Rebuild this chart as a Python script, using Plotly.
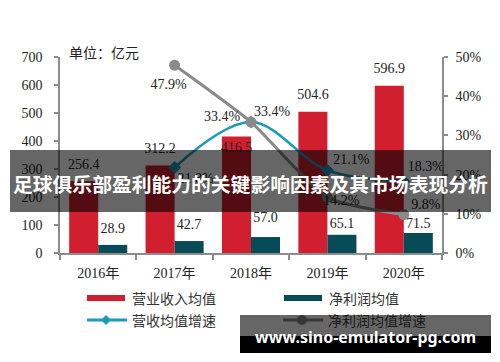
import plotly.graph_objects as go

# ---------------- data ----------------
years = ["2016年", "2017年", "2018年", "2019年", "2020年"]
revenue = [256.4, 312.2, 416.5, 504.6, 596.9]          # 营业收入均值 (亿元)
profit = [28.9, 42.7, 57.0, 65.1, 71.5]                # 净利润均值 (亿元)
rev_growth = [None, 0.218, 0.334, 0.211, 0.183]        # 营收均值增速
profit_growth = [None, 0.479, 0.334, 0.142, 0.098]     # 净利润均值增速
y_ticks = [0, 100, 200, 300, 400, 500, 600, 700]
y2_ticks = [0, 0.1, 0.2, 0.3, 0.4, 0.5]

# label offsets in pixels (dx right, dy up)
rev_bar_dy = [16, 16, -12, 16, 16]
pro_bar_dy = [15, 16, 19, 10, 8]
rev_lbl_off = [None, (21, -12), (-29, 5), (24, 10), (22, 14)]
pro_lbl_off = [None, (-6, -20), (21, 10), (14, -4), (22, 9)]

# ---------------- geometry (page pixels; body has 8px default margin) ----------------
PAGE_W, PAGE_H = 500, 362
OFF = 8
W, H = PAGE_W - OFF, PAGE_H - OFF
L, R, T, B = 60, 442, 57, 253
n = len(years)
xs = list(range(n))
px_cat = (R - L) / n
px_y = (B - T) / 700.0
px_y2 = (B - T) / 0.5
bar_off = 0.19  # half bar width in category units

def fx(px):
    return (px - L) / (R - L)

def fy(py):
    return (B - py) / (B - T)

RED = "#D21F30"
TEAL = "#074B57"
BLUE = "#1B9BBA"
GRAY = "#8A8A8A"
AX = "#8C8C8C"
SERIF = "Liberation Serif, Noto Sans CJK SC"
CJK = "Noto Sans CJK SC"

fig = go.Figure()
fig.add_trace(go.Bar(x=xs, y=revenue, name="营业收入均值", marker_color=RED,
                     marker_line_width=0, offsetgroup="a"))
fig.add_trace(go.Bar(x=xs, y=profit, name="净利润均值", marker_color=TEAL,
                     marker_line_width=0, offsetgroup="b"))

fig.add_trace(go.Scatter(x=xs, y=rev_growth, yaxis="y2", mode="lines+markers",
                         name="营收均值增速", line=dict(color=BLUE, width=2.5, shape="spline"),
                         marker=dict(symbol="diamond", size=10, color=BLUE)))
fig.add_trace(go.Scatter(x=xs, y=profit_growth, yaxis="y2", mode="lines+markers",
                         name="净利润均值增速",
                         line=dict(color=GRAY, width=3, shape="spline", smoothing=0.6),
                         marker=dict(symbol="circle", size=11, color=GRAY)))

# bar value labels
fig.add_trace(go.Scatter(
    x=[i - bar_off for i in xs] + [i + bar_off for i in xs],
    y=[v + d / px_y for v, d in zip(revenue, rev_bar_dy)] + [v + d / px_y for v, d in zip(profit, pro_bar_dy)],
    text=[f"{v:.1f}" for v in revenue] + [f"{v:.1f}" for v in profit],
    mode="text", textposition="middle center", cliponaxis=False,
    textfont=dict(family=SERIF, size=14, color="#222"), hoverinfo="skip"))

# growth labels
lx, ly, lt = [], [], []
for vals, offs in ((rev_growth, rev_lbl_off), (profit_growth, pro_lbl_off)):
    for i, (v, o) in enumerate(zip(vals, offs)):
        if v is None:
            continue
        lx.append(i + o[0] / px_cat)
        ly.append(v + o[1] / px_y2)
        lt.append(f"{v*100:.1f}%")
fig.add_trace(go.Scatter(x=lx, y=ly, text=lt, yaxis="y2", mode="text",
                         textposition="middle center", cliponaxis=False,
                         textfont=dict(family=SERIF, size=14, color="#222"), hoverinfo="skip"))

# ---------------- legend (drawn) ----------------
shapes = []
annots = []
leg = [
    ("bar", RED, 87, 298, "营业收入均值", "#333"),
    ("bar", TEAL, 284, 298, "净利润均值", "#333"),
    ("diamond", BLUE, 87, 320, "营收均值增速", "#333"),
    ("circle", GRAY, 283, 320, "净利润均值增速", "#1a1a1a"),
]
for kind, col, x0, yc, label, tcol in leg:
    if kind == "bar":
        shapes.append(dict(type="rect", xref="paper", yref="paper", x0=fx(x0), x1=fx(x0 + 38),
                           y0=fy(yc + 3), y1=fy(yc - 3), fillcolor=col, line_width=0, layer="above"))
    else:
        shapes.append(dict(type="line", xref="paper", yref="paper", x0=fx(x0), x1=fx(x0 + 40),
                           y0=fy(yc), y1=fy(yc), line=dict(color=col, width=3), layer="above"))
        cx = x0 + 19
        if kind == "diamond":
            shapes.append(dict(type="path", xref="paper", yref="paper",
                               path=f"M{fx(cx-5)},{fy(yc)} L{fx(cx)},{fy(yc-5)} L{fx(cx+5)},{fy(yc)} L{fx(cx)},{fy(yc+5)} Z",
                               fillcolor=col, line_width=0, layer="above"))
        else:
            shapes.append(dict(type="circle", xref="paper", yref="paper", x0=fx(cx - 5), x1=fx(cx + 5),
                               y0=fy(yc + 5), y1=fy(yc - 5), fillcolor=col, line_width=0, layer="above"))
    annots.append(dict(xref="paper", yref="paper", x=fx(x0 + 43), y=fy(yc), text=label,
                       showarrow=False, xanchor="left", yanchor="middle",
                       font=dict(family=CJK, size=14, color=tcol)))

# unit label
annots.append(dict(xref="paper", yref="paper", x=fx(67), y=fy(52), text="单位：亿元",
                   showarrow=False, xanchor="left", yanchor="middle",
                   font=dict(family=CJK, size=14, color="#222")))

# banner overlay
shapes.append(dict(type="rect", xref="paper", yref="paper", x0=fx(10), x1=fx(491),
                   y0=fy(212), y1=fy(150), fillcolor="rgba(0,0,0,0.6)", line_width=0, layer="above"))
annots.append(dict(xref="paper", yref="paper", x=fx(250), y=fy(183),
                   text="<b>足球俱乐部盈利能力的关键影响因素及其市场表现分析</b>",
                   showarrow=False, xanchor="center", yanchor="middle",
                   font=dict(family=CJK, size=19.8, color="white")))

# watermark
shapes.append(dict(type="rect", xref="paper", yref="paper", x0=fx(240), x1=fx(491),
                   y0=fy(336), y1=fy(315), fillcolor="rgba(0,0,0,0.6)", line_width=0, layer="above"))
shapes.append(dict(type="rect", xref="paper", yref="paper", x0=fx(240), x1=fx(491),
                   y0=fy(353), y1=fy(336), fillcolor="black", line_width=0, layer="above"))
annots.append(dict(xref="paper", yref="paper", x=fx(365), y=fy(337),
                   text="<b>www.sino-emulator-pg.com</b>",
                   showarrow=False, xanchor="center", yanchor="middle",
                   font=dict(family="Noto Sans", size=16, color="white")))

fig.update_layout(
    width=W, height=H,
    margin=dict(l=L - OFF, r=PAGE_W - R, t=T - OFF, b=PAGE_H - B),
    paper_bgcolor="white", plot_bgcolor="white",
    barmode="group", bargap=0.24, bargroupgap=0,
    showlegend=False,
    shapes=shapes, annotations=annots,
    xaxis=dict(range=[-0.5, n - 0.5], tickvals=xs, ticktext=years, ticks="",
               showline=True, linecolor=AX, linewidth=1.5, showgrid=False, zeroline=False,
               tickfont=dict(family=SERIF, size=14, color="#222"), ticklabelstandoff=6,
               minor=dict(tickvals=[i - 0.5 for i in range(n + 1)], ticks="outside",
                          ticklen=5, tickcolor=AX, tickwidth=1.5, showgrid=False)),
    yaxis=dict(range=[0, 700], tickvals=y_ticks, ticks="outside", ticklen=4, tickcolor=AX,
               tickwidth=1.5, showline=True, linecolor=AX, linewidth=1.5, showgrid=False,
               zeroline=False, tickfont=dict(family=SERIF, size=14, color="#222"),
               ticklabelstandoff=9),
    yaxis2=dict(range=[0, 0.5], tickvals=y2_ticks, tickformat=".0%", overlaying="y",
                side="right", anchor="x", ticks="outside", ticklen=4, tickcolor=AX,
                tickwidth=1.5, showline=True, linecolor=AX, linewidth=1.5, showgrid=False,
                zeroline=False, tickfont=dict(family=SERIF, size=14, color="#222"),
                ticklabelstandoff=5),
)

fig.write_html("out.html")
